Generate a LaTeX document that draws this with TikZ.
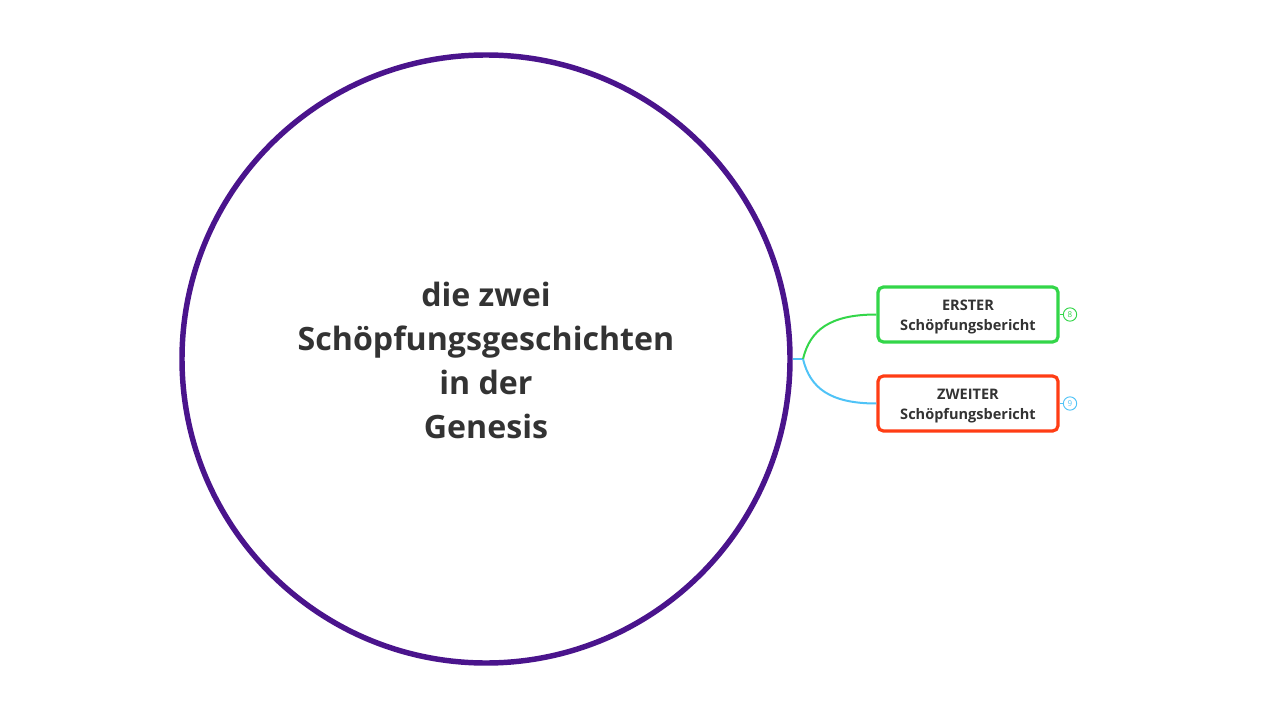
\documentclass[tikz,border=0pt]{standalone}
\usepackage{fontspec}
\setmainfont{Open Sans}
\definecolor{purp}{HTML}{4A148C}
\definecolor{grn}{HTML}{33D649}
\definecolor{rd}{HTML}{FF3D14}
\definecolor{blu}{HTML}{4FC3F7}
\definecolor{txt}{HTML}{333333}
\tikzset{
  box/.style={draw, line width=2.4pt, rounded corners=4pt, minimum width=180*0.75pt, minimum height=55*0.75pt, align=center, font=\bfseries\fontsize{10.9}{15}\selectfont, text=txt, fill=white},
  boxtext/.style={align=center, font=\bfseries\fontsize{10.9}{15}\selectfont, text=txt, inner sep=0pt},
  badge/.style={draw, circle, line width=0.7pt, inner sep=0pt, minimum size=10pt, font=\fontsize{6}{6}\selectfont},
  conn/.style={line width=1.5pt}
}
\begin{document}
\begin{tikzpicture}[x=0.75pt,y=-0.75pt]
\useasboundingbox (0,0) rectangle (1280,720);
\fill[white] (0,0) rectangle (1280,720);
\node[draw=purp, line width=4.1pt, circle, minimum size=608*0.75pt, inner sep=0pt] (c) at (486,359) {};
\node[align=center, font=\bfseries\fontsize{24.1}{33}\selectfont, text=txt] (t) at (486,360) {die zwei\\Schöpfungsgeschichten\\in der\\Genesis};
\node[box, draw=grn] (b1) at (968,314.5) {};
\node[boxtext] (l1) at (968,317) {ERSTER\\Schöpfungsbericht};
\node[box, draw=rd] (b2) at (968,403.5) {};
\node[boxtext] (l2) at (968,406) {ZWEITER\\Schöpfungsbericht};
\coordinate (j) at (803,359);
\draw[conn, blu] (c.east) -- (j);
\draw[conn, grn] (j) .. controls (810,330) and (830,314.5) .. (b1.west);
\draw[conn, blu] (j) .. controls (810,388) and (830,403.5) .. (b2.west);
\node[badge, draw=grn, text=grn] (n1) at (1070,314.5) {8};
\node[badge, draw=blu, text=blu] (n2) at (1070,403.5) {9};
\draw[grn, line width=1pt] (b1.east) -- (n1.west);
\draw[blu, line width=1pt] (b2.east) -- (n2.west);
\end{tikzpicture}
\end{document}
